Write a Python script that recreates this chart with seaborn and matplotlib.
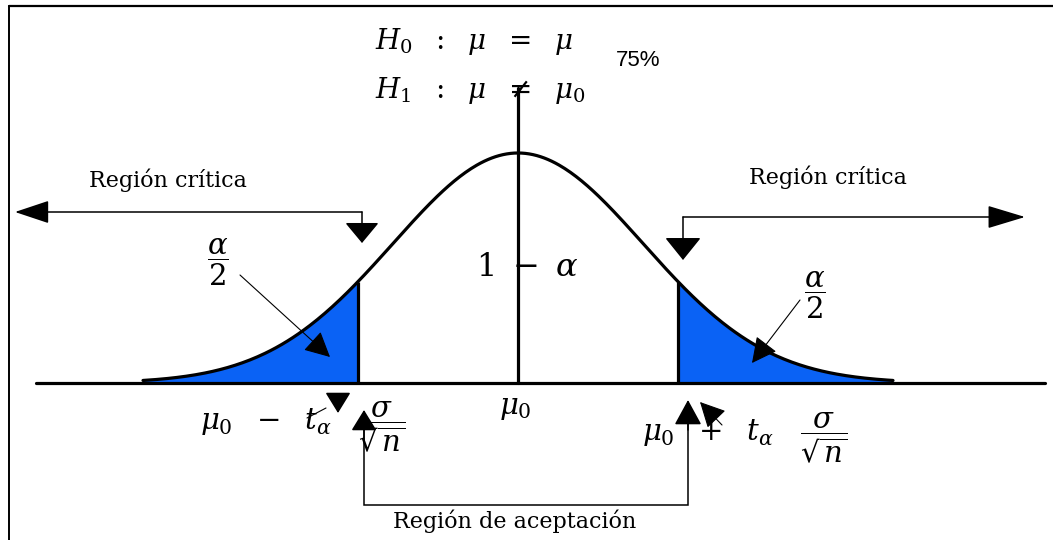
import matplotlib
matplotlib.use("Agg")
import matplotlib.pyplot as plt
import numpy as np
import pandas as pd
import seaborn as sns
from matplotlib.lines import Line2D

# Diagram values, standardised units (mu0 = 0, sigma/sqrt(n) = 1)
mu0 = 0.0
t_alpha = 1.28
tail_limit = 3.0
z_grid = np.linspace(-tail_limit, tail_limit, 401)
density = np.exp(-z_grid ** 2 / 2) / np.sqrt(2 * np.pi)

hypotheses = [r"$H_{0}\ \ :\ \ \mu\ \ =\ \ \mu$", r"$H_{1}\ \ :\ \ \mu\ \ \neq\ \ \mu_0$"]
percent_label = "75%"
critical_label = "Región crítica"
acceptance_label = "Región de aceptación"
alpha_half = r"$\dfrac{\alpha}{2}$"
center_label = r"$1\ -\ \alpha$"
lower_label = r"$\mu_0\ \ -\ \ t_\alpha\quad\dfrac{\sigma}{\sqrt{n}}$"
upper_label = r"$\mu_0\ \ +\ \ t_\alpha\quad\dfrac{\sigma}{\sqrt{n}}$"
mu_label = r"$\mu_0$"

curve = pd.DataFrame({"z": z_grid, "density": density})

W, H = 1053, 540
BLUE = "#0A62F5"


def fp(x, y):
    # reference pixel position -> axes fraction (axes fills the figure)
    return (x / W, 1 - y / H)


def arrow(ax, tail, tip, hl, hw, lw=1.1):
    ms = 20
    ax.annotate(
        "", xy=fp(*tip), xytext=fp(*tail), xycoords="axes fraction",
        arrowprops=dict(
            arrowstyle=f"-|>,head_length={hl / (ms * 1.389):.2f},head_width={hw / (2 * ms * 1.389):.2f}",
            color="black", lw=lw, mutation_scale=ms, shrinkA=0, shrinkB=0,
        ),
    )


def polyline(ax, pts, lw=1.1):
    xs, ys = zip(*[fp(x, y) for x, y in pts])
    ax.plot(xs, ys, color="black", lw=lw, transform=ax.transAxes, solid_joinstyle="miter")


def label(ax, x, y, s, size, ha="center", **kw):
    ax.text(*fp(x, y), s, transform=ax.transAxes, fontsize=size, ha=ha, va="center",
            color="black", **kw)


sns.set_theme(style="white")
plt.rcParams["mathtext.fontset"] = "dejavuserif"
plt.rcParams["font.family"] = ["DejaVu Serif"]
plt.rcParams["text.color"] = "black"

fig = plt.figure(figsize=(10.53, 5.40), dpi=100)
ax = fig.add_axes([0, 0, 1, 1])
ax.set_xlim(-4.144, 4.28)
ax.set_ylim(-0.2723, 0.6643)
ax.axis("off")

# tails
left = curve[curve["z"] <= -t_alpha]
right = curve[curve["z"] >= t_alpha]
ax.fill_between(left["z"], 0, left["density"], color=BLUE, lw=0)
ax.fill_between(right["z"], 0, right["density"], color=BLUE, lw=0)

sns.lineplot(data=curve, x="z", y="density", color="black", lw=2.3, ax=ax)
crit_height = np.exp(-t_alpha ** 2 / 2) / np.sqrt(2 * np.pi)
ax.vlines([-t_alpha, t_alpha], 0, crit_height, color="black", lw=2.3)
ax.axhline(0, xmin=36 / W, xmax=1045 / W, color="black", lw=2.3)
ax.axvline(mu0, ymin=1 - 383 / H, ymax=1 - 88 / H, color="black", lw=2.3)

# frame
fig.add_artist(Line2D([9 / W, 1], [1 - 5.5 / H, 1 - 5.5 / H], color="black", lw=1.6))
fig.add_artist(Line2D([9 / W, 9 / W], [0, 1 - 5.5 / H], color="black", lw=1.4))

# hypotheses
label(ax, 375, 42, hypotheses[0], 20, ha="left")
label(ax, 375, 90, hypotheses[1], 20, ha="left")
label(ax, 638, 61, percent_label, 16, family="Liberation Sans")

# critical regions
label(ax, 168, 180, critical_label, 16)
label(ax, 828, 177, critical_label, 16)
arrow(ax, (362, 212), (15, 212), 30, 20)
arrow(ax, (362, 212), (362, 243), 18, 30)
arrow(ax, (683, 217), (1025, 217), 33, 20)
arrow(ax, (683, 217), (683, 260), 20, 32)

# alpha / 2 labels
label(ax, 218, 262, alpha_half, 21)
label(ax, 815, 295, alpha_half, 21)
arrow(ax, (240, 275), (330, 357), 22, 22, lw=0.8)
arrow(ax, (800, 300), (752, 363), 22, 22, lw=0.8)

label(ax, 527, 267, center_label, 23)
label(ax, 515, 408, mu_label, 21)

# bounds of the acceptance region
label(ax, 200, 427, lower_label, 21, ha="left")
label(ax, 642, 438, upper_label, 21, ha="left")
arrow(ax, (338, 395), (338, 413), 18, 22)
polyline(ax, [(307, 418), (326, 408)], lw=0.8)
arrow(ax, (722, 425), (700, 402), 22, 22, lw=0.8)

polyline(ax, [(364, 428), (364, 505), (688, 505), (688, 420)])
arrow(ax, (364, 440), (364, 410), 18, 22)
arrow(ax, (688, 430), (688, 400), 22, 24)
label(ax, 515, 521, acceptance_label, 16)

fig.savefig("out.png", dpi=100)
plt.close(fig)
